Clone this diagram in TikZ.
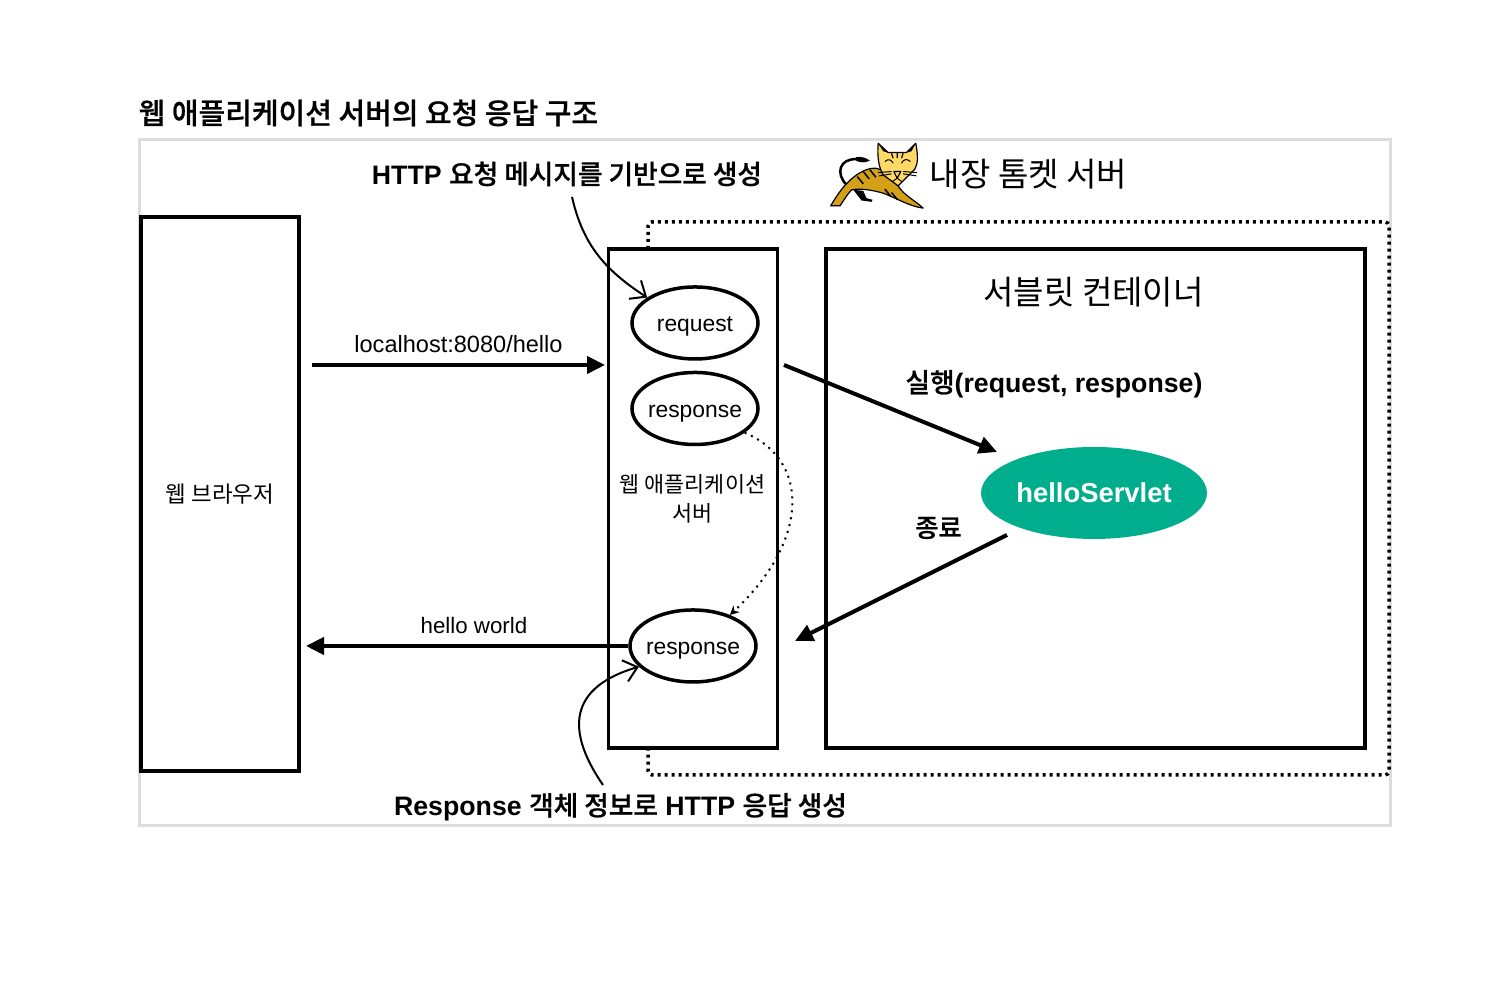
\documentclass[tikz,border=0pt]{standalone}
\usepackage{fontspec}
\setmainfont{Liberation Sans}
\newfontfamily\krfont[BoldFont = {Noto Sans CJK KR Medium}, BoldFeatures = {FakeBold = 0.8}]{Noto Sans CJK KR}
\usetikzlibrary{positioning, arrows.meta, shapes.geometric}

\newcommand{\kr}[1]{{\krfont #1}}
\newcommand{\ovaltext}[1]{\makebox[0pt]{\smash{\raisebox{-0.09cm}{#1}}}}
\definecolor{framegray}{HTML}{DCDCDC}
\definecolor{servletgreen}{HTML}{00AE8E}
\definecolor{catbody}{HTML}{D4A017}
\definecolor{cathead}{HTML}{FFD966}

\tikzset{
	box/.style = {draw, line width = 0.035cm, inner sep = 0, align = center},
	oval/.style = {ellipse, draw, line width = 0.035cm, inner sep = 0, minimum width = 1.26cm, minimum height = 0.72cm},
	flow/.style = {line width = 0.04cm, -{Triangle[length = 0.18cm, width = 0.17cm]}},
	note/.style = {line width = 0.02cm, -{Straight Barb[length = 0.13cm, width = 0.22cm]}},
	smalltext/.style = {font = \fontsize{6.5}{8.5}\selectfont},
	boldtext/.style = {font = \fontsize{7.6}{9}\selectfont\bfseries},
	headtext/.style = {font = \fontsize{9.4}{11}\selectfont}
}

\begin{document}
\begin{tikzpicture}
	\useasboundingbox (0, 0) rectangle (15, 10);
	\fill [white] (0, 0) rectangle (15, 10);

	\node [anchor = west, inner sep = 0, font = \fontsize{8.25}{10}\selectfont\bfseries] (title) at (1.38, 8.87) {\kr{웹 애플리케이션 서버의 요청 응답 구조}};
	\node [draw = framegray, line width = 0.03cm, inner sep = 0, minimum width = 12.5cm, minimum height = 6.86cm] (frame) at (7.65, 5.17) {};

	% server boundary
	\coordinate (dot1) at (6.48, 7.51);
	\coordinate (dot2) at (6.48, 2.52);
	\draw [line width = 0.035cm, dash pattern = on 0.03cm off 0.04cm, rounded corners = 0.04cm] (dot1) -- (6.48, 7.78) -- (13.89, 7.78) -- (13.89, 2.25) -- (6.48, 2.25) -- (dot2);

	\node [box, minimum width = 1.58cm, minimum height = 5.54cm, font = \fontsize{6.4}{9}\selectfont] (browser) at (2.2, 5.06) {\kr{웹 브라우저}};
	\node [box, minimum width = 1.69cm, minimum height = 4.99cm, right = 3.06cm of browser.east, anchor = west, yshift = -0.045cm] (was) {};
	\node [box, minimum width = 5.39cm, minimum height = 4.99cm, right = 0.45cm of was] (container) {};

	\node [oval, smalltext] (request) at (6.95, 6.77) {\ovaltext{request}};
	\node [oval, smalltext, below = 0.1cm of request] (response) {\ovaltext{response}};
	\node [oval, smalltext] (result) at (6.93, 3.54) {\ovaltext{response}};
	\node [align = center, inner sep = 0, font = \fontsize{6.2}{8.1}\selectfont] (waslabel) at (6.925, 5.01) {\kr{웹 애플리케이션}\\\kr{서버}};

	\node [ellipse, fill = servletgreen, inner sep = 0, minimum width = 2.26cm, minimum height = 0.92cm, text = white, font = \fontsize{7.8}{10}\selectfont\bfseries] (servlet) at (10.94, 5.07) {helloServlet};
	\node [inner sep = 0, headtext] (containerlabel) at (10.935, 7.08) {\kr{서블릿 컨테이너}};
	\node [inner sep = 0, headtext] (serverlabel) at (10.285, 8.26) {\kr{내장 톰켓 서버}};
	\node [inner sep = 0, boldtext] (httpnote) at (5.67, 8.26) {HTTP \kr{요청 메시지를 기반으로 생성}};
	\node [inner sep = 0, boldtext] (callnote) at (10.54, 6.16) {\kr{실행}(request, response)};
	\node [inner sep = 0, font = \fontsize{7.2}{9}\selectfont\bfseries] (endnote) at (9.385, 4.72) {\kr{종료}};
	\node [inner sep = 0, boldtext] (resnote) at (6.205, 1.93) {Response \kr{객체 정보로} HTTP \kr{응답 생성}};
	\node [inner sep = 0, font = \fontsize{6.7}{8.5}\selectfont] (urllabel) at (4.585, 6.56) {localhost:8080/hello};
	\node [inner sep = 0, font = \fontsize{6.35}{8.5}\selectfont] (worldlabel) at (4.74, 3.74) {hello world};

	\coordinate (urlstart) at (3.12, 6.35);
	\coordinate (urlend) at (6.05, 6.35);
	\coordinate (worldend) at (3.06, 3.54);
	\coordinate (callstart) at (7.84, 6.35);
	\coordinate (callend) at (9.97, 5.48);
	\coordinate (endstart) at (10.07, 4.65);
	\coordinate (endend) at (7.95, 3.59);
	\coordinate (httpstart) at (5.72, 8.03);
	\coordinate (resstart) at (6.03, 2.15);

	\draw [flow] (urlstart) -- (urlend);
	\draw [flow] (result.west) -- (worldend);
	\draw [flow] (callstart) -- (callend);
	\draw [flow] (endstart) -- (endend);

	\draw [note] (httpstart) .. controls (5.83, 7.55) and (6.05, 7.3) .. (request.152);
	\draw [note] (resstart) .. controls (5.72, 2.6) and (5.6, 3.1) .. (result.201);
	\draw [line width = 0.02cm, dash pattern = on 0.02cm off 0.05cm, -{Stealth[length = 0.09cm, width = 0.09cm]}] (response.-26) .. controls (8.1, 5.4) and (8.1, 4.6) .. (result.40);

	% tomcat logo
	\begin{scope}[shift = {(8.2, 8.7)}, x = 0.00333cm, y = -0.00333cm, line join = round]
		\draw [line width = 0.025cm] (80, 165) .. controls (45, 130) and (60, 85) .. (110, 88);
		\fill (108, 82) .. controls (125, 78) and (140, 85) .. (150, 92) .. controls (135, 100) and (118, 98) .. (108, 92) -- cycle;
		\draw [fill = catbody, line width = 0.012cm] (32, 228) .. controls (55, 190) and (75, 160) .. (110, 135) .. controls (140, 115) and (165, 110) .. (185, 120) -- (235, 168) .. controls (250, 195) and (290, 215) .. (310, 235) .. controls (270, 230) and (230, 205) .. (190, 190) .. controls (155, 180) and (120, 175) .. (95, 180) .. controls (80, 195) and (70, 215) .. (60, 228) -- cycle;
		\fill (100, 180) -- (130, 183) -- (140, 205) -- (158, 210) -- (155, 216) -- (125, 212) -- cycle;
		\draw [fill = cathead, line width = 0.012cm] (175, 40) -- (205, 68) -- (260, 68) -- (288, 40) .. controls (295, 80) and (295, 100) .. (285, 118) -- (235, 168) -- (190, 135) .. controls (175, 110) and (172, 75) .. (175, 40) -- cycle;
		\fill (175, 40) -- (205, 68) -- (190, 64) -- cycle;
		\fill (288, 40) -- (260, 68) -- (275, 64) -- cycle;
		\foreach \sx/\sy in {130/125, 150/120, 112/140, 195/178, 215/188} {
			\draw [line width = 0.015cm] (\sx, \sy) -- ++(18, 22);
		}
		\draw [line width = 0.012cm] (215, 70) -- (220, 85) (232, 68) -- (232, 85) (250, 70) -- (245, 85);
		\draw [line width = 0.01cm] (195, 95) .. controls (205, 85) and (215, 90) .. (220, 100) (245, 100) .. controls (250, 88) and (262, 85) .. (272, 95);
		\draw [line width = 0.01cm] (175, 128) -- (215, 125) (178, 138) -- (215, 132) (250, 125) -- (292, 128) (250, 132) -- (290, 138);
		\draw [line width = 0.012cm] (222, 125) -- (232, 145) -- (243, 125) -- cycle;
		\draw [line width = 0.01cm] (218, 155) -- (232, 145) -- (246, 155);
	\end{scope}
\end{tikzpicture}
\end{document}
